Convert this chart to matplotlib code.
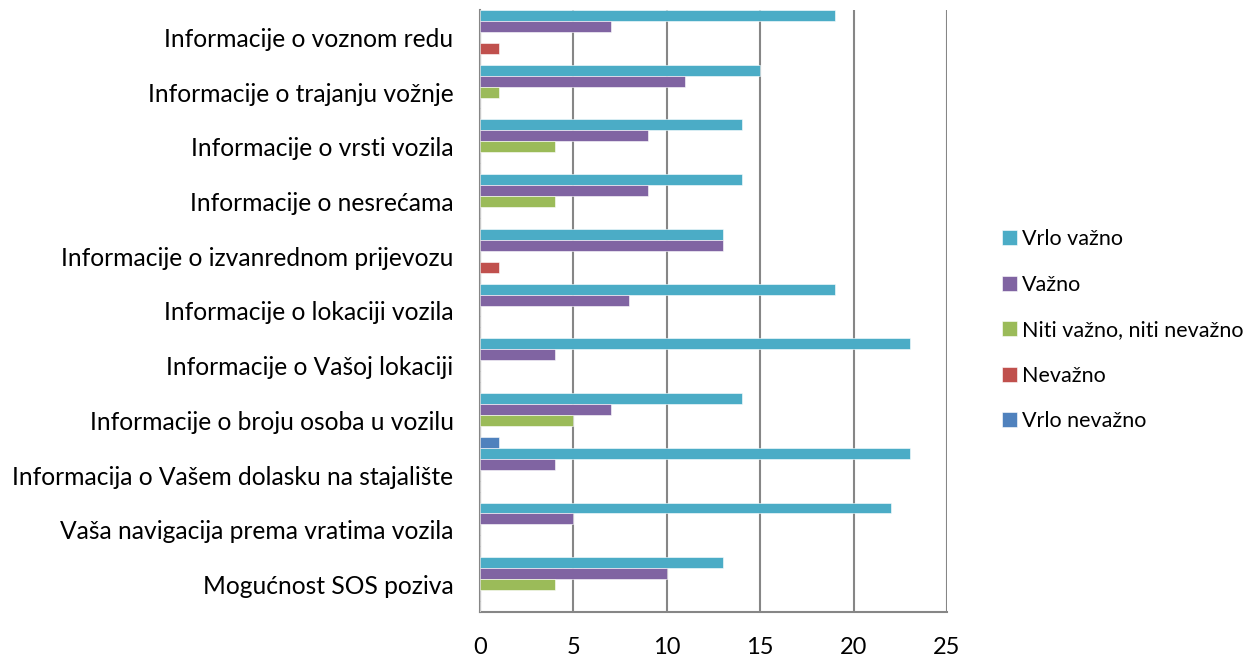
import numpy as np
import matplotlib.pyplot as plt

# kategorije (od vrha prema dnu)
kategorije = [
    "Informacije o voznom redu",
    "Informacije o trajanju vožnje",
    "Informacije o vrsti vozila",
    "Informacije o nesrećama",
    "Informacije o izvanrednom prijevozu",
    "Informacije o lokaciji vozila",
    "Informacije o Vašoj lokaciji",
    "Informacije o broju osoba u vozilu",
    "Informacija o Vašem dolasku na stajalište",
    "Vaša navigacija prema vratima vozila",
    "Mogućnost SOS poziva",
]

vrlo_vazno = [19, 15, 14, 14, 13, 19, 23, 14, 23, 22, 13]
vazno = [7, 11, 9, 9, 13, 8, 4, 7, 4, 5, 10]
niti = [0, 1, 4, 4, 0, 0, 0, 5, 0, 0, 4]
nevazno = [1, 0, 0, 0, 1, 0, 0, 0, 0, 0, 0]
vrlo_nevazno = [0, 0, 0, 0, 0, 0, 0, 1, 0, 0, 0]

serije = ["Vrlo važno", "Važno", "Niti važno, niti nevažno", "Nevažno", "Vrlo nevažno"]
boje = ["#4BACC6", "#8064A2", "#9BBB59", "#C0504D", "#4F81BD"]
podaci = [vrlo_vazno, vazno, niti, nevazno, vrlo_nevazno]

plt.rcParams['font.family'] = ['Lato', 'DejaVu Sans']

fig = plt.figure(figsize=(12.5, 6.57), dpi=100)
ax = fig.add_axes([0.384, 0.0685, 0.3736, 0.9163])

y = np.arange(len(kategorije))
h = 0.2
for k in range(5):
    ax.barh(y - 0.4 + k * h, podaci[k], height=h, color=boje[k],
            edgecolor='white', linewidth=0.4, label=serije[k], zorder=3)

ax.set_xlim(0, 25)
ax.set_ylim(len(kategorije) - 0.5, -0.5)
ax.set_xticks([0, 5, 10, 15, 20, 25])
ax.set_yticks(y)
ax.set_yticklabels(kategorije, fontsize=17.7)
ax.tick_params(axis='x', labelsize=17, length=0, pad=18)
ax.tick_params(axis='y', length=0, pad=19)
ax.grid(axis='x', color='#868686', linewidth=1.5, zorder=0)

for s in ['top', 'right']:
    ax.spines[s].set_visible(False)
for s in ['left', 'bottom']:
    ax.spines[s].set_color('#868686')
    ax.spines[s].set_linewidth(1.5)

ax.legend(loc='center left', bbox_to_anchor=(1.076, 0.468), frameon=False,
          fontsize=15.5, handlelength=0.7, handleheight=0.7, handletextpad=0.25,
          labelspacing=1.19)

plt.savefig('out.png', dpi=100)
